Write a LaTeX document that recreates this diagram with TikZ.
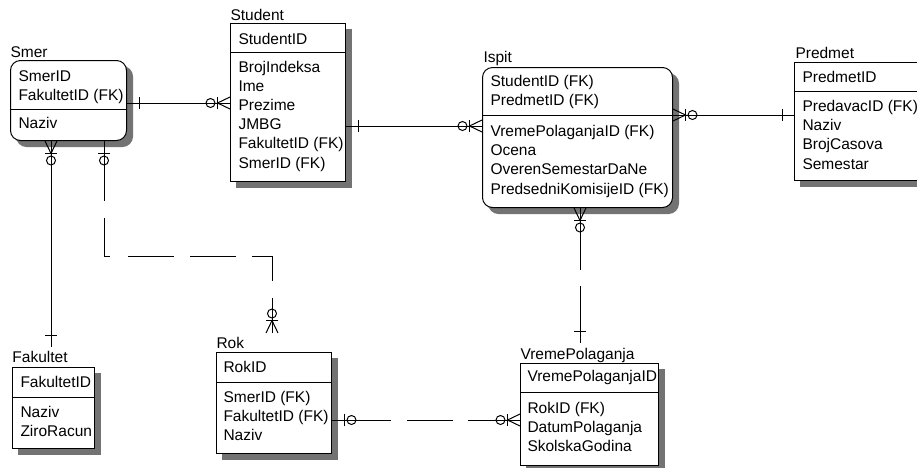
\documentclass[tikz,border=0pt]{standalone}
\usepackage{fontspec}
\setmainfont{Liberation Sans}
\newcommand\erfont{\fontsize{15.5}{19}\selectfont}

% entity box: name, x, y (top left), width, height, corner style, separator y
\newcommand\erBox[7]{%
  \node[shadowbox, #6, minimum width=#4pt, minimum height=#5pt] (#1-shadow) at (#2+6,#3+6) {};
  \node[entity, #6, minimum width=#4pt, minimum height=#5pt] (#1) at (#2,#3) {};
  \draw (#1.west |- 0,#7) -- (#1.east |- 0,#7);}

% attribute rows clipped to the entity box: entity, prefix, text x, first baseline, rows
\newcommand\erFields[5]{%
  \begin{scope}
    \clip (#1.north west) rectangle (#1.south east);
    \foreach \t [count=\i from 0] in {#5}
      \node[field] (#1-#2\i) at (#3, #4+19.1*\i) {\t};
  \end{scope}}

\begin{document}
\begin{tikzpicture}[x=1pt, y=-1pt, line width=1pt,
  entity/.style={draw, fill=white, inner sep=0pt, anchor=north west},
  shadowbox/.style={fill=black!55, draw=black!55, inner sep=0pt, anchor=north west},
  rnd/.style={rounded corners=10pt},
  sq/.style={sharp corners},
  enttitle/.style={anchor=base west, inner sep=0pt, font=\erfont},
  field/.style={anchor=base west, inner sep=0pt, font=\erfont},
  rel/.style={line width=1pt},
  pics/erone/.style={code={\draw (12,-6) -- (12,6);}},
  pics/erzeroone/.style={code={\draw (12.5,-6) -- (12.5,6);
      \draw (19.5,0) circle[radius=4.5pt];}},
  pics/erzeromany/.style={code={\draw (0,-6) -- (12.5,0) -- (0,6);
      \draw (12.5,-6) -- (12.5,6);
      \draw (19.5,0) circle[radius=4.5pt];}}]
\useasboundingbox (0,0) rectangle (917,467);
\clip (0,0) rectangle (917,467);

% ---- entities ----
\node[enttitle] (smertitle) at (10,57) {Smer};
\erBox{smer}{10}{60}{116}{80}{rnd}{109}
\erFields{smer}{k}{18}{81.5}{SmerID,FakultetID (FK)}
\erFields{smer}{a}{18}{128}{Naziv}

\node[enttitle] (studenttitle) at (230,20) {Student};
\erBox{student}{230}{23}{115}{158}{sq}{52}
\erFields{student}{k}{238}{44}{StudentID}
\erFields{student}{a}{238}{72.5}{BrojIndeksa,Ime,Prezime,JMBG,FakultetID (FK),SmerID (FK)}

\node[enttitle] (ispittitle) at (483,62.7) {Ispit};
\erBox{ispit}{482}{67}{190}{140}{rnd}{115}
\erFields{ispit}{k}{490}{86.7}{StudentID (FK),PredmetID (FK)}
\erFields{ispit}{a}{490}{136.7}{VremePolaganjaID (FK),Ocena,OverenSemestarDaNe,PredsedniKomisijeID (FK)}

\node[enttitle] (predmettitle) at (795,58) {Predmet};
\erBox{predmet}{794}{62}{140}{118}{sq}{91}
\erFields{predmet}{k}{802}{82}{PredmetID}
\erFields{predmet}{a}{802}{111.7}{PredavacID (FK),Naziv,BrojCasova,Semestar}

\node[enttitle] (fakultettitle) at (12,362.7) {Fakultet};
\erBox{fakultet}{12}{367}{82}{81}{sq}{397}
\erFields{fakultet}{k}{20}{387.3}{FakultetID}
\erFields{fakultet}{a}{20}{417.3}{Naziv,ZiroRacun}

\node[enttitle] (roktitle) at (216,348.3) {Rok};
\erBox{rok}{216}{352}{115}{101}{sq}{382}
\erFields{rok}{k}{223}{372.3}{RokID}
\erFields{rok}{a}{223}{402.7}{SmerID (FK),FakultetID (FK),Naziv}

\node[enttitle] (vptitle) at (520,359.3) {VremePolaganja};
\erBox{vp}{520}{363}{138}{102}{sq}{392}
\erFields{vp}{k}{527}{381.7}{VremePolaganjaID}
\erFields{vp}{a}{527}{413.3}{RokID (FK),DatumPolaganja,SkolskaGodina}

% connector ends above the entity titles
\coordinate (fakultettop) at (51,347);
\coordinate (roktop) at (272,333);
\coordinate (vptop) at (580,343);

% ---- relationships ----
% Smer -- Student
\draw[rel] (smer.east |- 0,103) -- (student.west |- 0,103);
\pic at (smer.east |- 0,103) {erone};
\pic[rotate=180] at (student.west |- 0,103) {erzeromany};

% Student -- Ispit
\draw[rel] (student.east |- 0,126) -- (ispit.west |- 0,126);
\pic at (student.east |- 0,126) {erone};
\pic[rotate=180] at (ispit.west |- 0,126) {erzeromany};

% Ispit -- Predmet
\draw[rel] (ispit.east |- 0,115) -- (predmet.west |- 0,115);
\pic at (ispit.east |- 0,115) {erzeromany};
\pic[rotate=180] at (predmet.west |- 0,115) {erone};

% Smer -- Fakultet
\draw[rel] (smer.south -| 51,0) -- (fakultettop);
\pic[rotate=-90] at (smer.south -| 51,0) {erzeromany};
\pic[rotate=90] at (fakultettop) {erone};

% Smer -- Rok (non-identifying)
\draw[rel, dash pattern=on 60pt off 17pt on 44pt off 18pt on 46pt off 16pt on 46pt off 16pt on 45pt off 17pt on 80pt off 1pt]
  (smer.south -| 104,0) -- ++(0,115) -| (roktop);
\pic[rotate=-90] at (smer.south -| 104,0) {erzeroone};
\pic[rotate=90] at (roktop) {erzeromany};

% Ispit -- VremePolaganja
\draw[rel, dash pattern=on 62pt off 16pt on 100pt off 1pt]
  (ispit.south -| 580,0) -- (vptop);
\pic[rotate=-90] at (ispit.south -| 580,0) {erzeromany};
\pic[rotate=90] at (vptop) {erone};

% Rok -- VremePolaganja
\draw[rel, dash pattern=on 59pt off 16pt on 46pt off 15pt on 100pt off 1pt]
  (rok.east |- 0,420) -- (vp.west |- 0,420);
\pic at (rok.east |- 0,420) {erzeroone};
\pic[rotate=180] at (vp.west |- 0,420) {erzeromany};
\end{tikzpicture}
\end{document}
